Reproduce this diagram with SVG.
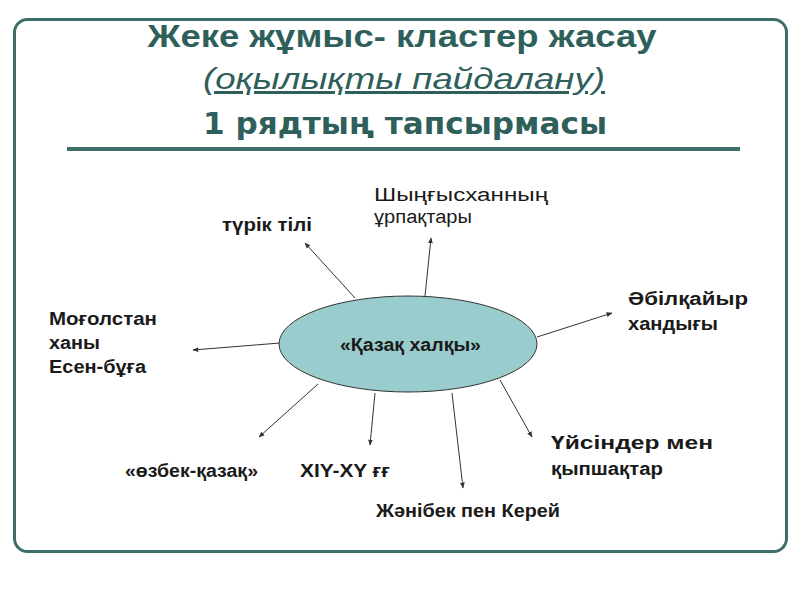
<svg xmlns="http://www.w3.org/2000/svg" width="800" height="600" viewBox="0 0 800 600">
<defs>
<marker id="ah" viewBox="0 0 10 10" refX="9" refY="5" markerWidth="6" markerHeight="6" orient="auto" markerUnits="userSpaceOnUse">
<path d="M0,1 L10,5 L0,9 Z" fill="#333"/>
</marker>
<style>
.title{font-family:"Liberation Sans",Arial,sans-serif;fill:#2f5f5b;text-anchor:middle}
.lbl{font-family:"Liberation Sans",Arial,sans-serif;font-size:18px;font-weight:bold;fill:#1a1a1a}
.reg{font-weight:normal}
.conn line{stroke:#333;stroke-width:1;marker-end:url(#ah)}
</style>
</defs>
<rect width="800" height="600" fill="#fff"/>
<rect x="14.5" y="19.5" width="772" height="532" rx="13" fill="none" stroke="#3d6e6a" stroke-width="3"/>
<g id="title">
<text class="title" x="402" y="47" font-size="31" font-weight="bold" textLength="509" lengthAdjust="spacingAndGlyphs">Жеке жұмыс- кластер жасау</text>
<text class="title" x="404" y="89" font-size="30" font-style="italic" text-decoration="underline" textLength="402" lengthAdjust="spacingAndGlyphs">(оқылықты пайдалану)</text>
<text class="title" x="405" y="134" font-size="31" font-weight="bold" textLength="404" lengthAdjust="spacingAndGlyphs" style="font-family:'DejaVu Sans',sans-serif">1 рядтың тапсырмасы</text>
<line x1="67" y1="149" x2="740" y2="149" stroke="#3d6e6a" stroke-width="4"/>
</g>
<g id="connectors" class="conn">
<line x1="355" y1="298" x2="305" y2="243"/>
<line x1="425" y1="296" x2="431" y2="238"/>
<line x1="537" y1="337" x2="612" y2="313"/>
<line x1="280" y1="343" x2="193" y2="350"/>
<line x1="318" y1="384" x2="259" y2="437"/>
<line x1="375" y1="393" x2="370" y2="445"/>
<line x1="452" y1="393" x2="463" y2="488"/>
<line x1="500" y1="380" x2="532" y2="437"/>
</g>
<g id="center">
<ellipse cx="408" cy="344" rx="129" ry="48" fill="#99cccc" stroke="#333" stroke-width="1"/>
<text class="lbl" x="340" y="351" textLength="141" lengthAdjust="spacingAndGlyphs">«Қазақ халқы»</text>
</g>
<g id="n-turik"><text class="lbl" x="222" y="231" textLength="90" lengthAdjust="spacingAndGlyphs">түрік тілі</text></g>
<g id="n-shyngys"><text class="lbl reg" x="374" y="201" textLength="174" lengthAdjust="spacingAndGlyphs">Шыңғысханның</text><text class="lbl reg" x="374" y="223" textLength="98" lengthAdjust="spacingAndGlyphs">ұрпақтары</text></g>
<g id="n-abilkaiyr"><text class="lbl" x="628" y="305" textLength="120" lengthAdjust="spacingAndGlyphs">Әбілқайыр</text><text class="lbl" x="628" y="330" textLength="90" lengthAdjust="spacingAndGlyphs">хандығы</text></g>
<g id="n-mogol"><text class="lbl" x="49" y="325" textLength="108" lengthAdjust="spacingAndGlyphs">Моғолстан</text><text class="lbl" x="49" y="349" textLength="51" lengthAdjust="spacingAndGlyphs">ханы</text><text class="lbl" x="49" y="373" textLength="97" lengthAdjust="spacingAndGlyphs">Есен-бұға</text></g>
<g id="n-ozbek"><text class="lbl" x="125" y="477" textLength="133" lengthAdjust="spacingAndGlyphs">«өзбек-қазақ»</text></g>
<g id="n-xiy"><text class="lbl" x="300" y="477" textLength="90" lengthAdjust="spacingAndGlyphs">XIY-XY ғғ</text></g>
<g id="n-zhanibek"><text class="lbl" x="376" y="517" textLength="184" lengthAdjust="spacingAndGlyphs">Жәнібек пен Керей</text></g>
<g id="n-uisin"><text class="lbl" x="551" y="449" textLength="162" lengthAdjust="spacingAndGlyphs">Үйсіндер мен</text><text class="lbl" x="551" y="475" textLength="112" lengthAdjust="spacingAndGlyphs">қыпшақтар</text></g>
</svg>
